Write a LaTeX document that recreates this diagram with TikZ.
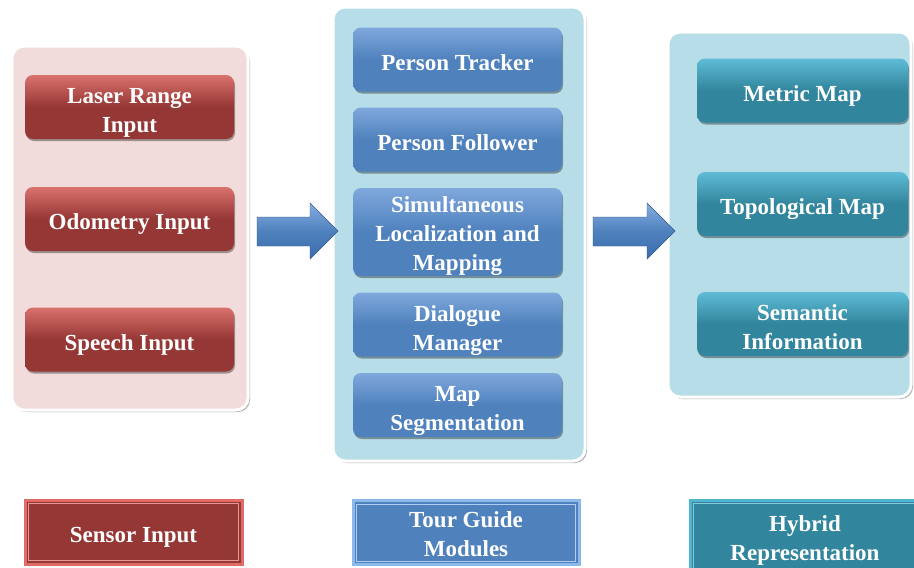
\documentclass[tikz,border=0pt]{standalone}
\usepackage{fontspec}
\setmainfont{Liberation Serif}
\usetikzlibrary{shadows,calc}
\definecolor{pinkbg}{HTML}{F2DCDB}
\definecolor{bluebg}{HTML}{B7DEE8}
\definecolor{redbase}{HTML}{953735}
\definecolor{redtop}{HTML}{D9716D}
\definecolor{redlight}{HTML}{E06A66}
\definecolor{bluebase}{HTML}{4F81BD}
\definecolor{bluetop}{HTML}{7FA8DC}
\definecolor{bluelight}{HTML}{8DB8EC}
\definecolor{tealbase}{HTML}{31859C}
\definecolor{tealtop}{HTML}{5FBCD6}
\definecolor{teallight}{HTML}{4FB4D0}
\definecolor{arrowtop}{HTML}{86AEE2}
\definecolor{arrowbot}{HTML}{3B6CAE}
\begin{document}
\begin{tikzpicture}[x=1pt,y=-1pt,
  panel/.style={rounded corners=12pt, draw=white, line width=3pt, inner sep=0pt,
    drop shadow={shadow xshift=2pt,shadow yshift=-2pt,opacity=0.3,fill=black}},
  oneline/.style={text height=26pt, text depth=5pt},
  twoline/.style={text height=55pt, text depth=4pt},
  threeline/.style={text height=81pt, text depth=4pt},
  box/.style={rounded corners=8pt, inner sep=0pt, text=white, align=center, oneline,
    font=\fontsize{23}{29}\selectfont\bfseries, minimum height=64pt,
    drop shadow={shadow xshift=1pt,shadow yshift=-2pt,opacity=0.35,fill=black}},
  redbox/.style={box, minimum width=209pt, top color=redtop, bottom color=redbase, middle color=redbase},
  bluebox/.style={box, minimum width=209pt, top color=bluetop, bottom color=bluebase, middle color=bluebase},
  tealbox/.style={box, minimum width=211pt, top color=tealtop, bottom color=tealbase, middle color=tealbase},
  legend/.style={inner sep=0pt, text=white, align=center, line width=3pt, oneline,
    font=\fontsize{23}{29}\selectfont\bfseries, minimum height=64pt},
  blockarrow/.style={top color=arrowtop, bottom color=arrowbot, middle color=bluebase, draw=arrowbot!80!black, line width=0.4pt}
]
\useasboundingbox (0,0) rectangle (914,568);
\fill[white] (0,0) rectangle (914,568);

% panels
\node[panel, fill=pinkbg, minimum width=236pt, minimum height=364pt] (p1) at (130,228) {};
\node[panel, fill=bluebg, minimum width=252pt, minimum height=454pt] (p2) at (459,234) {};
\node[panel, fill=bluebg, minimum width=243pt, minimum height=365pt] (p3) at (789.5,214.5) {};

% block arrows
\path[blockarrow] (257,217) -- (310,217) -- (310,203) -- (338,231) -- (310,259) -- (310,246) -- (257,246) -- cycle;
\path[blockarrow] (593,217) -- (647,217) -- (647,203) -- (675,231) -- (647,259) -- (647,246) -- (593,246) -- cycle;

% sensor input boxes
\node[redbox, twoline] (laser) at (129.5,107) {Laser Range\\Input};
\node[redbox] (odo) at (129.5,219) {Odometry Input};
\node[redbox] (speech) at (129.5,339.5) {Speech Input};

% tour guide modules
\node[bluebox] (track) at (457.5,59.5) {Person Tracker};
\node[bluebox] (follow) at (457.5,139.5) {Person Follower};
\node[bluebox, threeline, minimum height=88pt] (slam) at (457.5,232) {Simultaneous\\Localization and\\Mapping};
\node[bluebox, twoline] (dialog) at (457.5,324.5) {Dialogue\\Manager};
\node[bluebox, twoline] (seg) at (457.5,405) {Map\\Segmentation};

% hybrid representation
\node[tealbox] (metric) at (802.5,90.5) {Metric Map};
\node[tealbox] (topo) at (802.5,204) {Topological Map};
\node[tealbox, twoline] (sem) at (802.5,324) {Semantic\\Information};

% legend
\node[legend, fill=redbase, draw=redlight, minimum width=217pt] (l1) at (133.5,532) {Sensor Input};
\node[legend, fill=bluebase, draw=bluelight, minimum width=226pt, text height=51pt, text depth=4pt] (l2) at (466,532.5) {Tour Guide\\Modules};
\node[legend, fill=tealbase, draw=teallight, minimum width=230pt, minimum height=72pt, text height=52pt, text depth=4pt] (l3) at (805,536) {Hybrid\\Representation};
\draw[redlight!70!white, line width=0.8pt] ($(l1.north west)+(5,5)$) rectangle ($(l1.south east)+(-5,-5)$);
\draw[bluelight!70!white, line width=0.8pt] ($(l2.north west)+(5,5)$) rectangle ($(l2.south east)+(-5,-5)$);
\draw[teallight!70!white, line width=0.8pt] ($(l3.north west)+(5,5)$) rectangle ($(l3.south east)+(-5,-5)$);
\end{tikzpicture}
\end{document}
